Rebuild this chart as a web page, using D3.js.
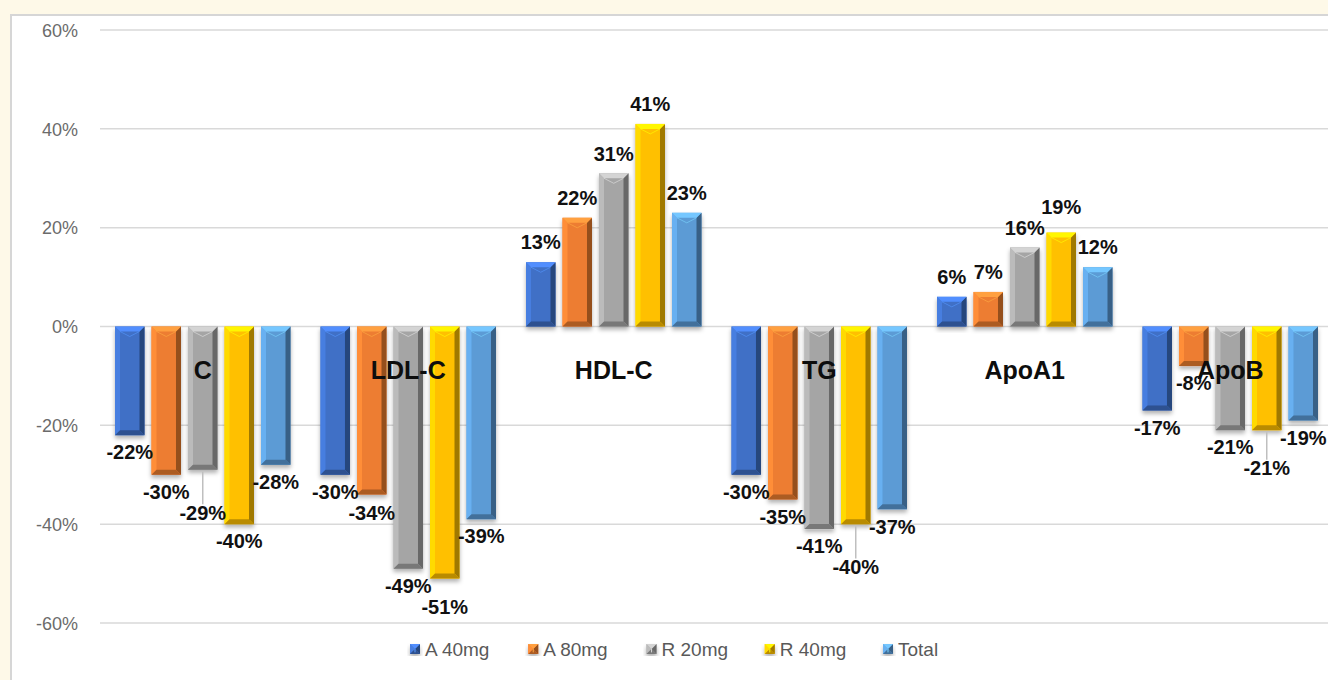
<!DOCTYPE html>
<html>
<head>
<meta charset="utf-8">
<script src="https://cdn.jsdelivr.net/npm/d3@7"></script>
<style>
  html, body { margin: 0; padding: 0; background: #fef9e8; }
  svg { display: block; }
</style>
</head>
<body>
<svg id="chart" width="1328" height="680"></svg>
<script>
// Lipid parameters and percentage change per treatment arm
const categories = ["C", "LDL-C", "HDL-C", "TG", "ApoA1", "ApoB"];
const seriesNames = ["A 40mg", "A 80mg", "R 20mg", "R 40mg", "Total"];
const a40 = [-22, -30, 13, -30, 6, -17];
const a80 = [-30, -34, 22, -35, 7, -8];
const r20 = [-29, -49, 31, -41, 16, -21];
const r40 = [-40, -51, 41, -40, 19, -21];
const total = [-28, -39, 23, -37, 12, -19];
const yTicks = [-60, -40, -20, 0, 20, 40, 60];
const seriesColors = ["#3f6fc6", "#ed7d31", "#a5a5a5", "#ffc000", "#5b9bd5"];

const seriesValues = [a40, a80, r20, r40, total];

const svg = d3.select("#chart");
const W = 1328, H = 680;

// chart frame
svg.append("rect")
  .attr("x", 11).attr("y", 15).attr("width", W + 20).attr("height", H + 20)
  .attr("fill", "#ffffff").attr("stroke", "#d6d6d6").attr("stroke-width", 2);

const plot = { left: 100, right: 1333, top: 30, bottom: 623 };

const y = d3.scaleLinear().domain([-60, 60]).range([plot.bottom, plot.top]);
const x0 = d3.scaleBand().domain(categories).range([plot.left, plot.right])
  .paddingInner(0.146).paddingOuter(0.073);
const x1 = d3.scaleBand().domain(seriesNames).range([0, x0.bandwidth()])
  .paddingInner(0.192).paddingOuter(0);

const defs = svg.append("defs");
const shadow = defs.append("filter").attr("id", "barShadow")
  .attr("x", "-30%").attr("y", "-10%").attr("width", "160%").attr("height", "130%");
shadow.append("feDropShadow").attr("dx", 0).attr("dy", 3).attr("stdDeviation", 2)
  .attr("flood-color", "#000").attr("flood-opacity", 0.3);

// gridlines
svg.append("g").selectAll("line").data(yTicks).join("line")
  .attr("x1", plot.left).attr("x2", plot.right)
  .attr("y1", d => y(d)).attr("y2", d => y(d))
  .attr("stroke", "#d9d9d9").attr("stroke-width", 1.5);

// y axis labels
const yAxis = d3.axisLeft(y).tickValues(yTicks).tickFormat(d => d + "%").tickSize(0).tickPadding(0);
const yAxisG = svg.append("g").attr("transform", "translate(78,0)").call(yAxis);
yAxisG.select(".domain").remove();
yAxisG.selectAll("text")
  .attr("fill", "#6b6b6b").attr("font-family", "Liberation Sans, Arial, sans-serif")
  .attr("font-size", 18).attr("dy", "0.35em");

// bevelled bar drawing
function drawBar(g, bx, by, bw, bh, color) {
  const c = d3.color(color);
  const b = Math.min(5, bh / 2, bw / 2);
  const grp = g.append("g").attr("filter", "url(#barShadow)");
  grp.append("rect").attr("x", bx).attr("y", by).attr("width", bw).attr("height", bh)
    .attr("fill", c.formatHex());
  const poly = (pts, fill) => grp.append("polygon")
    .attr("points", pts.map(p => p.join(",")).join(" ")).attr("fill", fill);
  poly([[bx, by], [bx + b, by + b], [bx + b, by + bh - b], [bx, by + bh]], c.brighter(0.35).formatHex());
  poly([[bx + bw, by], [bx + bw - b, by + b], [bx + bw - b, by + bh - b], [bx + bw, by + bh]], c.darker(1.3).formatHex());
  poly([[bx, by], [bx + bw, by], [bx + bw - b, by + b], [bx + b, by + b]], c.brighter(0.7).formatHex());
  poly([[bx, by + bh], [bx + bw, by + bh], [bx + bw - b, by + bh - b], [bx + b, by + bh - b]], c.darker(0.9).formatHex());
  // small highlight chevron at the top face
  const mx = bx + bw / 2;
  grp.append("path")
    .attr("d", `M${bx + b},${by + b} L${mx},${by + b + Math.min(5, bh / 3)} L${bx + bw - b},${by + b}`)
    .attr("fill", "none").attr("stroke", c.brighter(0.9).formatHex()).attr("stroke-width", 1).attr("opacity", 0.6);
}

const barsG = svg.append("g");
const barInfo = [];
categories.forEach((cat, ci) => {
  seriesNames.forEach((s, si) => {
    const v = seriesValues[si][ci];
    const bx = x0(cat) + x1(s);
    const bw = x1.bandwidth();
    const top = Math.min(y(v), y(0));
    const bh = Math.abs(y(v) - y(0));
    drawBar(barsG, bx, top, bw, bh, seriesColors[si]);
    barInfo.push({ v, cx: bx + bw / 2, end: y(v) });
  });
});

// category labels
svg.append("g").selectAll("text").data(categories).join("text")
  .attr("x", d => x0(d) + x0.bandwidth() / 2)
  .attr("y", y(0) + 52)
  .attr("text-anchor", "middle")
  .attr("font-family", "Liberation Sans, Arial, sans-serif")
  .attr("font-weight", "bold").attr("font-size", 25).attr("fill", "#0d0d0d")
  .text(d => d);

// data labels with simple collision avoidance
const labelG = svg.append("g");
const leaderG = svg.insert("g", () => labelG.node());
const placed = [];
const LH = 21;
barInfo.forEach(d => {
  const t = labelG.append("text")
    .attr("text-anchor", "middle")
    .attr("font-family", "Liberation Sans, Arial, sans-serif")
    .attr("font-weight", "bold").attr("font-size", 20).attr("fill", "#111")
    .text(d.v + "%");
  const w = t.node().getComputedTextLength();
  const neg = d.v < 0;
  const base = neg ? d.end + 17 : d.end - 20;
  let cy = base;
  let moved = true;
  while (moved) {
    moved = false;
    for (const p of placed) {
      if (Math.abs(p.x - d.cx) < (p.w + w) / 2 && Math.abs(p.y - cy) < LH) {
        cy = neg ? p.y + LH : p.y - LH;
        moved = true;
      }
    }
  }
  placed.push({ x: d.cx, y: cy, w });
  t.attr("x", d.cx).attr("y", cy).attr("dy", "0.36em");
  if (neg && cy - base > 16) {
    leaderG.append("line")
      .attr("x1", d.cx).attr("x2", d.cx)
      .attr("y1", d.end + 2).attr("y2", cy - LH / 2 + 2)
      .attr("stroke", "#bfbfbf").attr("stroke-width", 1.5);
  }
});

// legend
const legend = svg.append("g").attr("transform", "translate(0,649)");
const legendX = d3.scalePoint().domain(seriesNames).range([410, 883]);
seriesNames.forEach((s, i) => {
  const lx = legendX(s);
  drawBar(legend, lx, -5, 10, 10, seriesColors[i]);
  legend.append("text")
    .attr("x", lx + 15).attr("y", 0).attr("dy", "0.36em")
    .attr("font-family", "Liberation Sans, Arial, sans-serif")
    .attr("font-size", 19).attr("fill", "#595959")
    .text(s);
});
</script>
</body>
</html>
